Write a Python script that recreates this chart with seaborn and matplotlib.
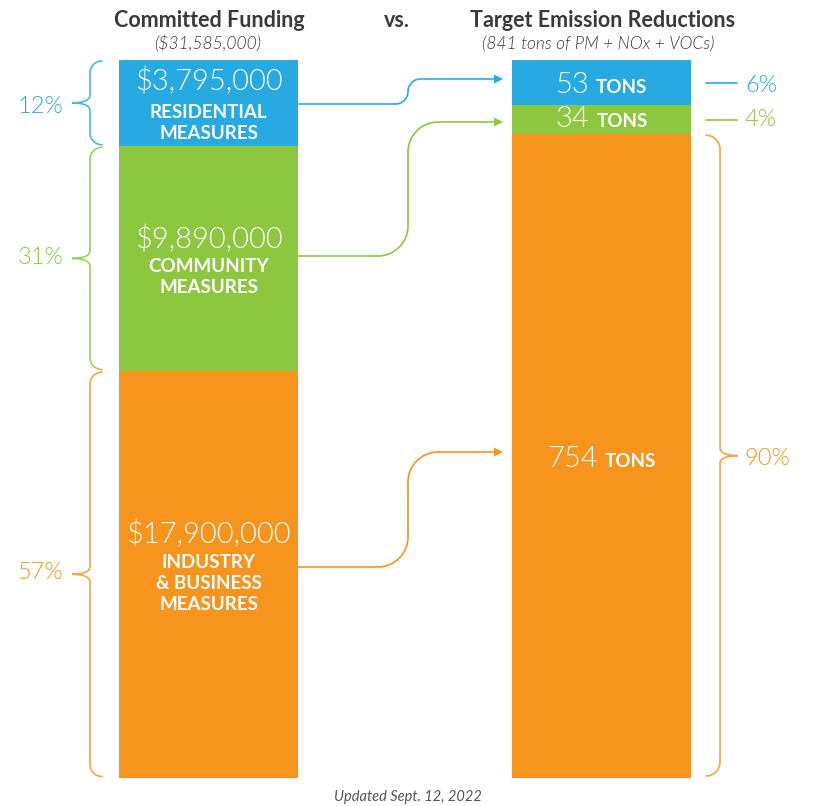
import numpy as np
import pandas as pd
import matplotlib
matplotlib.use("Agg")
import matplotlib.pyplot as plt
from matplotlib.path import Path
from matplotlib.patches import PathPatch, Polygon
import seaborn as sns

# Values
segments = ["Residential", "Community", "Industry"]
funding = [3795000, 9890000, 17900000]
funding_labels = ["$3,795,000", "$9,890,000", "$17,900,000"]
funding_names = ["RESIDENTIAL\nMEASURES", "COMMUNITY\nMEASURES", "INDUSTRY\n& BUSINESS\nMEASURES"]
funding_pct = ["12%", "31%", "57%"]
tons = [53, 34, 754]
tons_labels = ["53", "34", "754"]
tons_pct = ["6%", "4%", "90%"]
colors = ["#27AAE1", "#8DC63F", "#F7941E"]

# Layout (pixels of the 814x806 image, y measured from the top)
W, H = 814, 806
TOP, BOT = 60, 778
SPAN = BOT - TOP
LEFT_X, RIGHT_X, BAR_W = 208.5, 601.5, 179
DARK = "#3a3a3a"
LIGHT = 300  # Lato Light
K = 0.5523  # bezier circle constant


def dy(py):
    # pixel row -> data y (share of the bar)
    return (BOT - py) / SPAN


def to_data(verts):
    return [(x, dy(y)) for x, y in verts]


sns.set_theme(style="white")
plt.rcParams["font.family"] = ["Lato", "DejaVu Sans"]

fig = plt.figure(figsize=(W / 100, H / 100), dpi=100)
ax = fig.add_axes([0, 0, 1, 1])

# stacked bars: shares of each total
df = pd.DataFrame({
    "bar": [LEFT_X] * 3 + [RIGHT_X] * 3,
    "segment": segments * 2,
    "share": list(np.array(funding) / sum(funding)) + list(np.array(tons) / sum(tons)),
})
sns.histplot(data=df, x="bar", weights="share", hue="segment", hue_order=segments,
             multiple="stack", bins=[LEFT_X - BAR_W / 2, LEFT_X + BAR_W / 2,
                                     RIGHT_X - BAR_W / 2, RIGHT_X + BAR_W / 2],
             palette=dict(zip(segments, colors)), alpha=1, linewidth=0,
             edgecolor="none", legend=False, ax=ax)
ax.set_xlim(0, W)
ax.set_ylim(dy(H), dy(0))
ax.set_axis_off()


def seg_bounds(values):
    # pixel top/bottom of each segment (first segment sits on top)
    fr = np.array(values) / sum(values)
    tops = TOP + np.concatenate([[0], np.cumsum(fr)[:-1]]) * SPAN
    return tops, tops + fr * SPAN


def brace(x_v, side, top, bot, color, r=12, d=18, h=8):
    s = 1 if side == "left" else -1
    x_end = x_v + s * r
    x_tip = x_v - s * d
    mid = (top + bot) / 2
    verts = [
        (x_end, top),
        (x_end - s * r * K, top), (x_v, top + r - r * K), (x_v, top + r),
        (x_v, mid - h),
        (x_v, mid - h * 0.3), (x_v - s * d * 0.4, mid), (x_tip, mid),
        (x_v - s * d * 0.4, mid), (x_v, mid + h * 0.3), (x_v, mid + h),
        (x_v, bot - r),
        (x_v, bot - r + r * K), (x_end - s * r * K, bot), (x_end, bot),
    ]
    codes = [Path.MOVETO] + [Path.CURVE4] * 3 + [Path.LINETO] + [Path.CURVE4] * 6 \
        + [Path.LINETO] + [Path.CURVE4] * 3
    ax.add_patch(PathPatch(Path(to_data(verts), codes), fill=False, edgecolor=color,
                           lw=1.2, alpha=0.85, capstyle="round"))


def connector(y0, y1, color, x0=298, xv=408, x1=495, r=30):
    r = min(r, abs(y0 - y1) / 2)
    verts = [
        (x0, y0), (xv - r, y0),
        (xv - r + K * r, y0), (xv, y0 - r + K * r), (xv, y0 - r),
        (xv, y1 + r),
        (xv, y1 + r - K * r), (xv + r - K * r, y1), (xv + r, y1),
        (x1, y1),
    ]
    codes = [Path.MOVETO, Path.LINETO] + [Path.CURVE4] * 3 + [Path.LINETO] \
        + [Path.CURVE4] * 3 + [Path.LINETO]
    ax.add_patch(PathPatch(Path(to_data(verts), codes), fill=False, edgecolor=color, lw=1.2))
    ax.add_patch(Polygon(to_data([(494, y1 - 4.5), (503, y1), (494, y1 + 4.5)]),
                         closed=True, facecolor=color, edgecolor="none"))


def txt(px, py, s, **kw):
    return ax.text(px, dy(py), s, va="baseline", **kw)


# headings
txt(LEFT_X + 1, 27, "Committed Funding", ha="center", fontsize=15.5, fontweight="bold", color=DARK)
txt(397, 27, "vs.", ha="center", fontsize=15.5, fontweight="bold", color=DARK)
txt(RIGHT_X + 1, 27, "Target Emission Reductions", ha="center", fontsize=15.5,
    fontweight="bold", color=DARK)
txt(LEFT_X - 1, 49, "($31,585,000)", ha="center", fontsize=12.5, style="italic",
    fontweight=LIGHT, color=DARK)
txt(RIGHT_X - 3, 49, "(841 tons of PM + NOx + VOCs)", ha="center", fontsize=12.5,
    style="italic", fontweight=LIGHT, color=DARK)
txt(408, 801, "Updated Sept. 12, 2022", ha="center", fontsize=10.5, style="italic",
    color="#555555")

# left bar labels
amount_base = [90, 248, 543]
name_base = [118, 272, 568]
for i in range(3):
    txt(LEFT_X, amount_base[i], funding_labels[i], ha="center", fontsize=21,
        fontweight=LIGHT, color="white")
    for j, line in enumerate(funding_names[i].split("\n")):
        txt(LEFT_X, name_base[i] + 21 * j, line, ha="center", fontsize=13.5,
            fontweight="bold", color="white")

# right bar labels (number + TONS, centred together)
tons_base = [92.5, 127, 467]
pairs = []
for i in range(3):
    a = txt(RIGHT_X, tons_base[i], tons_labels[i], ha="left", fontsize=21,
            fontweight=LIGHT, color="white")
    b = txt(RIGHT_X, tons_base[i], "TONS", ha="left", fontsize=13.5,
            fontweight="bold", color="white")
    pairs.append((a, b))
fig.canvas.draw()
rend = fig.canvas.get_renderer()
for a, b in pairs:
    wa = a.get_window_extent(rend).width
    wb = b.get_window_extent(rend).width
    left = RIGHT_X - (wa + 7 + wb) / 2
    a.set_x(left)
    b.set_x(left + wa + 7)

# braces and percentages, left side
ltops, lbots = seg_bounds(funding)
left_pct_base = [113, 264, 579]
for i in range(3):
    brace(90, "left", ltops[i] + 1, lbots[i] - 1.5, colors[i])
    txt(63, left_pct_base[i], funding_pct[i], ha="right", fontsize=17,
        fontweight=LIGHT, color=colors[i])

# right side
rtops, rbots = seg_bounds(tons)
right_pct_base = [92, 126, 465]
for i in range(2):
    yc = (rtops[i] + rbots[i]) / 2
    ax.plot([706, 737], [dy(yc), dy(yc)], color=colors[i], lw=1.2)
brace(720, "right", rtops[2] + 1, rbots[2] - 2, colors[2], r=14)
for i in range(3):
    txt(745, right_pct_base[i], tons_pct[i], ha="left", fontsize=17,
        fontweight=LIGHT, color=colors[i])

# connectors from funding to reductions
conn_start = [104, 256, 567]
conn_end = [79, 122, 452]
for i in range(3):
    connector(conn_start[i], conn_end[i], colors[i])

fig.savefig("out.png", dpi=100, facecolor="white")
